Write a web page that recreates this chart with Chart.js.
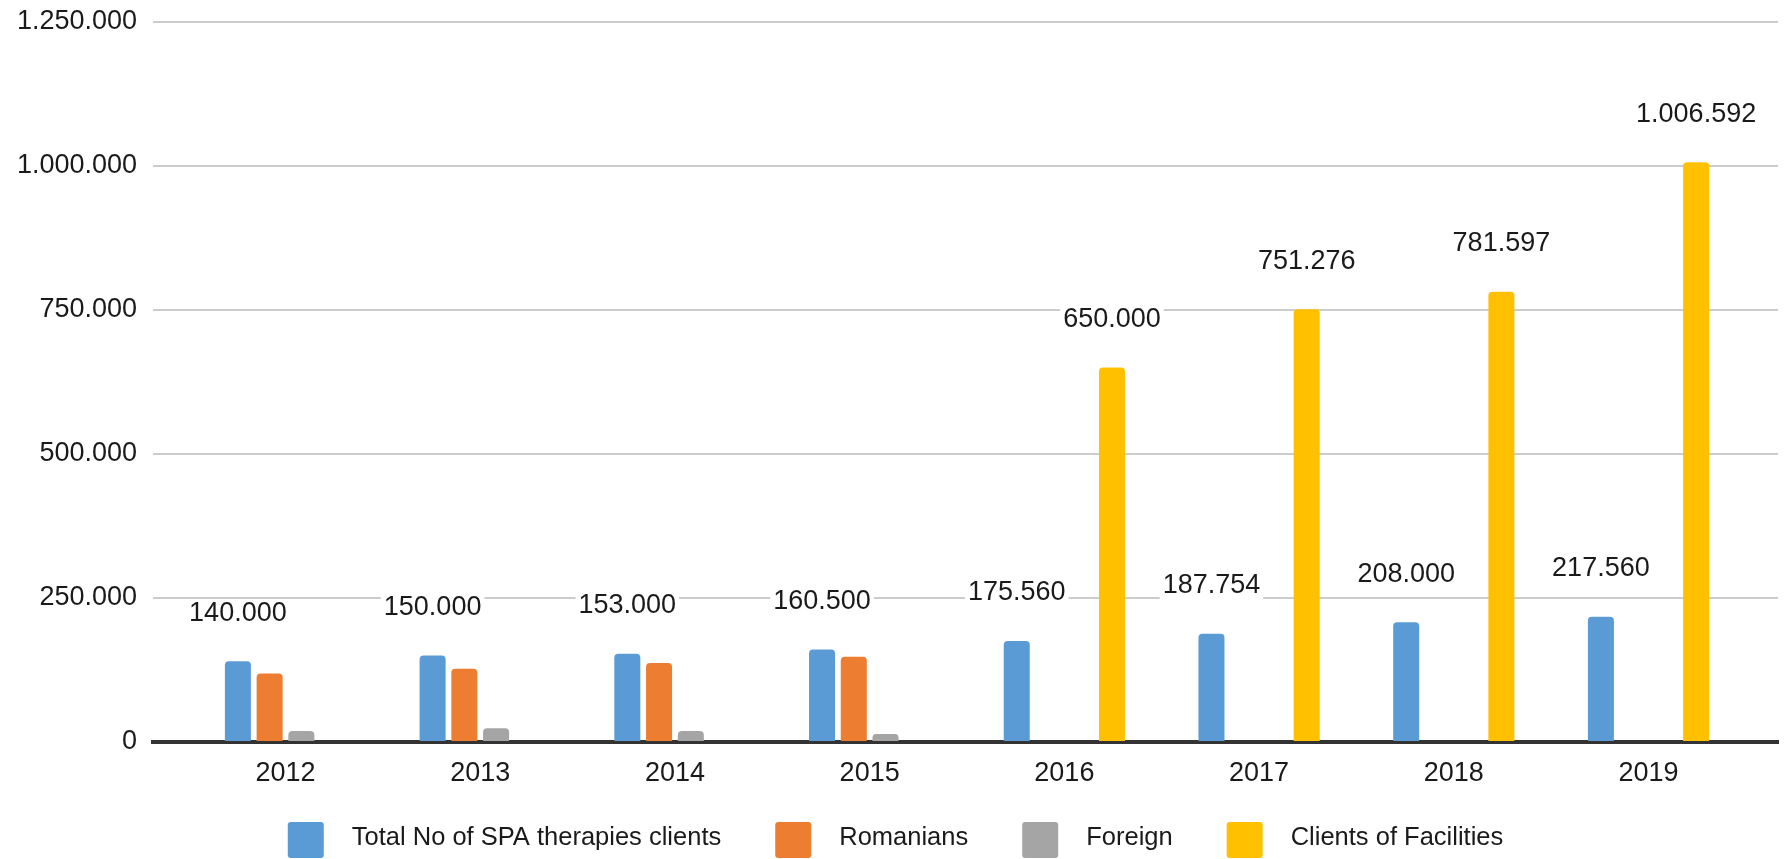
<!DOCTYPE html>
<html>
<head>
<meta charset="utf-8">
<script src="https://cdn.jsdelivr.net/npm/chart.js@4.4.1/dist/chart.umd.min.js"></script>
<style>
  html, body { margin: 0; padding: 0; background: #fff; }
  #wrap { width: 1791px; height: 859px; }
</style>
</head>
<body>
<div id="wrap"><canvas id="chart" width="1791" height="859"></canvas></div>
<script>
// Values
const years = ['2012', '2013', '2014', '2015', '2016', '2017', '2018', '2019'];
const totalSpa = [140000, 150000, 153000, 160500, 175560, 187754, 208000, 217560];
const romanians = [119000, 127000, 137000, 148000, null, null, null, null];
const foreign = [19000, 24000, 19000, 14000, null, null, null, null];
const facilities = [null, null, null, null, 650000, 751276, 781597, 1006592];
const yTicks = [0, 250000, 500000, 750000, 1000000, 1250000];

const FONT = 'Liberation Sans, Arial, sans-serif';

// 1234567 -> "1.234.567"
function fmt(v) {
    return String(Math.round(v)).replace(/\B(?=(\d{3})+(?!\d))/g, '.');
}

const toPoints = arr => arr.map((v, i) => ({ x: i, y: v }));

// Value labels above the blue and yellow bars, on a white patch
const valueLabels = {
    id: 'valueLabels',
    afterDatasetsDraw(chart) {
        const ctx = chart.ctx;
        ctx.save();
        ctx.font = '27px ' + FONT;
        ctx.textAlign = 'center';
        ctx.textBaseline = 'middle';
        [0, 3].forEach(di => {
            const meta = chart.getDatasetMeta(di);
            meta.data.forEach((bar, i) => {
                const v = chart.data.datasets[di].data[i].y;
                if (v == null) return;
                const txt = fmt(v);
                const w = ctx.measureText(txt).width;
                const cy = bar.y - 48;
                ctx.fillStyle = '#fff';
                ctx.fillRect(bar.x - w / 2 - 3, cy - 14, w + 6, 28);
                ctx.fillStyle = '#1a1a1a';
                ctx.fillText(txt, bar.x, cy);
            });
        });
        ctx.restore();
    }
};

// Legend row under the axis, one box + name per dataset
const bottomLegend = {
    id: 'bottomLegend',
    afterDraw(chart) {
        const ctx = chart.ctx;
        const box = 36, gapText = 28, gapItem = 54, cy = 840;
        ctx.save();
        ctx.font = '25.5px ' + FONT;
        ctx.textBaseline = 'middle';
        const items = chart.data.datasets.map(ds => ({
            text: ds.label, color: ds.backgroundColor, w: ctx.measureText(ds.label).width
        }));
        const total = items.reduce((s, it) => s + box + gapText + it.w, 0) + gapItem * (items.length - 1);
        let x = (chart.width - total) / 2;
        items.forEach(it => {
            ctx.fillStyle = it.color;
            ctx.beginPath();
            ctx.roundRect(x, cy - box / 2, box, box, 3);
            ctx.fill();
            ctx.fillStyle = '#1a1a1a';
            ctx.fillText(it.text, x + box + gapText, cy - 2);
            x += box + gapText + it.w + gapItem;
        });
        ctx.restore();
    }
};

new Chart(document.getElementById('chart'), {
    type: 'bar',
    data: {
        datasets: [
            { label: 'Total No of SPA therapies clients', data: toPoints(totalSpa), backgroundColor: '#5B9BD5' },
            { label: 'Romanians', data: toPoints(romanians), backgroundColor: '#ED7D31' },
            { label: 'Foreign', data: toPoints(foreign), backgroundColor: '#A5A5A5' },
            { label: 'Clients of Facilities', data: toPoints(facilities), backgroundColor: '#FFC000' }
        ]
    },
    options: {
        responsive: false,
        animation: false,
        devicePixelRatio: 1,
        layout: { padding: { top: 22, right: 13, left: 0, bottom: 69 } },
        datasets: {
            bar: {
                categoryPercentage: 0.652,
                barPercentage: 0.82,
                borderRadius: { topLeft: 4, topRight: 4 },
                borderSkipped: 'start'
            }
        },
        scales: {
            x: {
                type: 'linear',
                offset: false,
                min: -0.6805,
                max: 7.665,
                afterBuildTicks: s => { s.ticks = years.map((_, i) => ({ value: i })); },
                afterFit: s => { s.height = 48; s.paddingLeft = 0; s.paddingRight = 0; },
                grid: { display: false },
                border: { display: true, color: '#333333', width: 4 },
                ticks: {
                    autoSkip: false,
                    maxRotation: 0,
                    padding: 7,
                    color: '#1a1a1a',
                    font: { family: FONT, size: 27 },
                    callback: v => years[v] ?? ''
                }
            },
            y: {
                min: 0,
                max: 1250000,
                afterBuildTicks: s => { s.ticks = yTicks.map(v => ({ value: v })); },
                afterFit: s => { s.width = 153; s.paddingTop = 0; s.paddingBottom = 0; },
                grid: { color: '#cccccc', lineWidth: 2, drawTicks: false },
                border: { display: false },
                ticks: {
                    padding: 16,
                    color: '#1a1a1a',
                    font: { family: FONT, size: 27 },
                    callback: v => fmt(v)
                }
            }
        },
        plugins: {
            tooltip: { enabled: false },
            legend: { display: false }
        }
    },
    plugins: [valueLabels, bottomLegend]
});
</script>
</body>
</html>
